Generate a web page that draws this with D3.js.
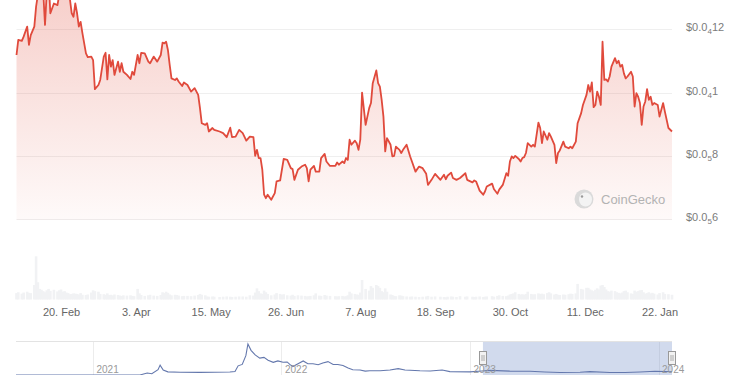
<!DOCTYPE html>
<html>
<head>
<meta charset="utf-8">
<script src="https://cdn.jsdelivr.net/npm/d3@7"></script>
<style>
  html, body { margin: 0; padding: 0; background: #fff; }
  svg { display: block; font-family: "Liberation Sans", Arial, sans-serif; }
</style>
</head>
<body>
<div id="chart"></div>
<script>
// daily price (USD millionths) and volume (USD millions)
var dates = [
  "2023-01-26","2023-01-27","2023-01-29","2023-01-30",
  "2023-02-01","2023-02-02","2023-02-03","2023-02-05","2023-02-06","2023-02-07","2023-02-08","2023-02-09","2023-02-10","2023-02-11","2023-02-12","2023-02-13","2023-02-14","2023-02-16","2023-02-18","2023-02-19","2023-02-20","2023-02-21","2023-02-22","2023-02-23","2023-02-24","2023-02-25","2023-02-26","2023-02-27","2023-02-28",
  "2023-03-01","2023-03-02","2023-03-03","2023-03-04","2023-03-06","2023-03-07","2023-03-09","2023-03-10","2023-03-11","2023-03-13","2023-03-14","2023-03-16","2023-03-17","2023-03-18","2023-03-19","2023-03-20","2023-03-21","2023-03-22","2023-03-24","2023-03-25","2023-03-26","2023-03-27","2023-03-29","2023-03-31",
  "2023-04-01","2023-04-02","2023-04-04","2023-04-05","2023-04-06","2023-04-08","2023-04-10","2023-04-11","2023-04-13","2023-04-15","2023-04-17","2023-04-18","2023-04-19","2023-04-20","2023-04-21","2023-04-22","2023-04-23","2023-04-25","2023-04-26","2023-04-27","2023-04-29","2023-04-30",
  "2023-05-02","2023-05-04","2023-05-06","2023-05-08","2023-05-09","2023-05-10","2023-05-12","2023-05-13","2023-05-14","2023-05-16","2023-05-17","2023-05-20","2023-05-22","2023-05-24","2023-05-26","2023-05-27","2023-05-29","2023-05-31",
  "2023-06-02","2023-06-04","2023-06-06","2023-06-08","2023-06-09","2023-06-10","2023-06-11","2023-06-12","2023-06-13","2023-06-14","2023-06-15","2023-06-16","2023-06-18","2023-06-20","2023-06-21","2023-06-23","2023-06-24","2023-06-25","2023-06-27","2023-06-29","2023-06-30",
  "2023-07-01","2023-07-03","2023-07-05","2023-07-07","2023-07-08","2023-07-09","2023-07-10","2023-07-12","2023-07-13","2023-07-15","2023-07-16","2023-07-18","2023-07-19","2023-07-21","2023-07-24","2023-07-25","2023-07-26","2023-07-28","2023-07-29","2023-07-30","2023-07-31",
  "2023-08-01","2023-08-02","2023-08-04","2023-08-05","2023-08-06","2023-08-07","2023-08-08","2023-08-10","2023-08-12","2023-08-13","2023-08-14","2023-08-16","2023-08-17","2023-08-18","2023-08-19","2023-08-20","2023-08-21","2023-08-22","2023-08-24","2023-08-25","2023-08-26","2023-08-27","2023-08-29","2023-08-30","2023-08-31",
  "2023-09-02","2023-09-04","2023-09-05","2023-09-07","2023-09-09","2023-09-11","2023-09-13","2023-09-14","2023-09-16","2023-09-18","2023-09-21","2023-09-23","2023-09-24","2023-09-25","2023-09-27","2023-09-28","2023-09-30",
  "2023-10-02","2023-10-05","2023-10-06","2023-10-09","2023-10-10","2023-10-11","2023-10-13","2023-10-15","2023-10-16","2023-10-17","2023-10-20","2023-10-21","2023-10-23","2023-10-24","2023-10-26","2023-10-28","2023-10-29","2023-10-30","2023-10-31",
  "2023-11-01","2023-11-02","2023-11-04","2023-11-05","2023-11-06","2023-11-07","2023-11-08","2023-11-09","2023-11-11","2023-11-12","2023-11-13","2023-11-15","2023-11-16","2023-11-17","2023-11-18","2023-11-20","2023-11-21","2023-11-22","2023-11-24","2023-11-25","2023-11-26","2023-11-27","2023-11-29","2023-11-30",
  "2023-12-02","2023-12-03","2023-12-04","2023-12-06","2023-12-07","2023-12-09","2023-12-10","2023-12-12","2023-12-13","2023-12-14","2023-12-15","2023-12-16","2023-12-17","2023-12-18","2023-12-19","2023-12-20","2023-12-21","2023-12-22","2023-12-23","2023-12-24","2023-12-25","2023-12-26","2023-12-28","2023-12-29","2023-12-30","2023-12-31",
  "2024-01-01","2024-01-02","2024-01-03","2024-01-04","2024-01-06","2024-01-07","2024-01-08","2024-01-09","2024-01-10","2024-01-11","2024-01-12","2024-01-13","2024-01-14","2024-01-15","2024-01-16","2024-01-17","2024-01-18","2024-01-19","2024-01-21","2024-01-22","2024-01-24","2024-01-25","2024-01-27","2024-01-29"
]
var prices = [
  11.19,11.67,11.64,11.77,
  12.09,11.51,11.82,12.09,12.72,13.1,13.6,13.9,13.2,12.14,13.2,13.6,12.51,12.82,12.77,13.1,13.5,13.3,13.7,13.4,13.1,12.95,12.51,12.40,12.82,
  12.51,12.09,12.24,11.88,11.24,11.12,11.14,11.03,10.11,10.24,10.40,11.14,11.26,10.42,11.19,10.82,11.03,10.56,10.98,10.66,10.93,10.66,10.56,10.43,
  10.66,10.56,11.19,10.93,11.26,11.24,10.98,10.93,11.14,10.98,11.19,11.58,11.56,11.61,11.35,10.88,10.45,10.40,10.45,10.35,10.21,10.32,
  10.24,10.03,10.14,9.93,9.51,9.03,8.98,9.03,8.77,8.88,8.82,8.77,8.72,8.59,8.89,8.59,8.61,8.82,
  8.72,8.48,8.61,8.59,8.00,8.19,7.93,7.93,7.56,6.77,6.66,6.77,6.61,6.82,7.19,7.22,7.56,7.90,7.87,7.61,7.58,
  7.24,7.56,7.66,7.72,7.61,7.19,7.56,7.68,7.50,7.50,7.93,8.06,7.82,7.68,7.68,7.79,7.72,7.82,7.77,7.93,7.87,
  8.51,8.35,8.48,8.40,8.19,8.51,10.00,8.98,9.51,9.67,10.30,10.70,10.30,10.19,9.77,9.24,8.14,8.56,8.35,7.98,8.00,8.29,8.19,8.09,8.19,
  8.35,7.98,7.82,7.50,7.66,7.61,7.43,7.08,7.24,7.43,7.24,7.40,7.26,7.37,7.47,7.30,7.24,
  7.30,7.45,7.24,7.16,7.22,7.19,6.90,6.77,6.87,7.03,7.12,6.95,6.80,6.93,7.08,7.45,7.37,7.82,7.98,
  7.93,8.00,7.90,7.82,7.93,7.96,8.09,8.40,8.29,8.35,8.29,9.05,8.88,8.40,8.77,8.51,8.72,8.61,8.35,7.77,8.09,8.17,8.45,8.29,
  8.24,8.29,8.24,8.45,9.03,9.35,9.61,9.93,10.24,10.03,10.32,9.54,9.61,10.03,9.87,9.61,11.61,10.40,10.42,10.35,10.51,10.82,11.09,10.93,11.01,10.82,
  10.88,10.61,10.45,10.51,10.66,10.51,9.56,9.98,9.87,9.67,8.98,9.56,9.72,10.11,9.77,9.87,9.61,9.67,9.61,9.24,9.67,9.40,8.88,8.77
]
var volumes = [
  230,260,210,250,
  280,240,230,520,1550,620,380,350,300,260,330,380,310,350,290,330,360,280,300,250,230,190,200,220,210,
  200,180,230,170,160,180,250,330,300,280,200,190,170,220,160,170,150,180,160,140,130,150,140,150,
  130,120,380,220,160,130,150,170,140,130,160,260,230,280,240,180,150,170,160,140,120,130,
  130,120,140,160,200,170,150,110,100,110,100,90,100,110,100,90,100,110,
  110,100,150,140,250,400,300,220,200,320,260,200,150,180,230,200,170,190,150,140,170,
  130,150,140,130,110,120,130,150,220,140,130,160,140,130,120,110,120,130,110,120,150,
  280,220,200,180,170,250,700,380,320,480,420,520,480,420,300,260,400,280,180,160,130,120,150,140,120,
  110,100,110,100,90,100,110,130,100,110,100,90,80,100,110,100,90,
  120,100,110,100,90,100,110,90,100,110,120,100,130,150,130,120,140,180,200,
  220,260,200,180,190,170,200,280,200,180,190,220,200,210,190,230,260,220,180,200,170,160,180,170,
  190,210,200,220,560,380,360,420,420,360,330,300,350,400,360,500,520,450,360,300,280,320,300,260,240,220,
  250,300,320,260,220,200,320,280,300,330,340,260,210,230,260,220,240,210,180,230,260,200,190,170
]
var priceTicks = [0.000006, 0.000008, 0.00001, 0.000012]
var dateTicks = ["2023-02-20","2023-04-03","2023-05-15","2023-06-26","2023-08-07","2023-09-18","2023-10-30","2023-12-11","2024-01-22"]

// navigator: whole history (USD millionths)
var navDates = [
  "2020-08-05","2021-04-02","2021-04-16","2021-04-25","2021-05-07","2021-05-11","2021-05-17","2021-05-26","2021-06-19","2021-07-27",
  "2021-09-23","2021-10-03","2021-10-09","2021-10-17","2021-10-24","2021-10-28","2021-11-03","2021-11-11","2021-11-20","2021-11-28",
  "2021-12-06","2021-12-16","2021-12-25","2022-01-04","2022-01-12","2022-01-17","2022-01-23","2022-02-02","2022-02-12","2022-02-21",
  "2022-03-03","2022-03-13","2022-03-22","2022-04-01","2022-04-11","2022-04-20","2022-04-30","2022-05-10","2022-05-19","2022-06-02",
  "2022-06-12","2022-06-21","2022-07-11","2022-07-30","2022-08-15","2022-08-28","2022-09-26","2022-10-16","2022-11-08","2022-11-23",
  "2023-01-01","2023-01-24","2023-02-09","2023-03-19","2023-04-27","2023-05-26","2023-06-24","2023-08-02","2023-08-21","2023-09-29",
  "2023-10-28","2023-11-26","2023-12-25","2024-01-14","2024-01-27"
]
var navPrices = [
  0,0.1,5.5,3.5,15,28,14,9,8,7.5,
  8.5,10,26,30,55,88,70,57,48,50,
  42,36,40,36,37,30,24,32,40,32,
  32,29,34,38,30,30,27,20,15,14,
  11,12,12,14,18,14,12,11.5,14,9.5,
  9,11.5,13,11,10.5,8.7,7.2,8,9.5,7.3,
  7.1,8.6,10.5,9.8,9.4
]
var yearTicks = [2021, 2022, 2023, 2024]

var width = 750,
    height = 375,
    left = 16.5,
    right = 672

var parse = d3.utcParse("%Y-%m-%d")
var data = dates.map(function (d, i) {
    return { date: parse(d), price: prices[i] * 1e-6, volume: volumes[i] }
})
var navData = navDates.map(function (d, i) {
    return { date: parse(d), price: navPrices[i] * 1e-6 }
})

var svg = d3.select("#chart")
    .append("svg")
    .attr("width", width)
    .attr("height", height)

var x = d3.scaleUtc()
    .domain(d3.extent(data, function (d) { return d.date }))
    .range([left, right])

var y = d3.scaleLinear()
    .domain([0.00000597, 0.00001293])
    .range([220, 0])

var yVol = d3.scaleLinear()
    .domain([0, 1580])
    .range([299.5, 255.5])

// gradient under the line
var grad = svg.append("defs")
    .append("linearGradient")
    .attr("id", "areaFill")
    .attr("gradientUnits", "userSpaceOnUse")
    .attr("x1", 0).attr("y1", 0)
    .attr("x2", 0).attr("y2", 220)
grad.append("stop").attr("offset", "0%").attr("stop-color", "#e15241").attr("stop-opacity", 0.27)
grad.append("stop").attr("offset", "100%").attr("stop-color", "#e15241").attr("stop-opacity", 0.03)

// horizontal grid
svg.selectAll(".grid")
    .data(priceTicks)
    .enter()
    .append("line")
    .attr("x1", left)
    .attr("x2", right)
    .attr("y1", function (d) { return Math.round(y(d)) + 0.5 })
    .attr("y2", function (d) { return Math.round(y(d)) + 0.5 })
    .attr("stroke", "#efefef")

// volume bars (wide enough to close the gaps between days)
svg.selectAll(".vol")
    .data(data)
    .enter()
    .append("rect")
    .attr("x", function (d) { return x(d.date) - 1.3 })
    .attr("width", 2.6)
    .attr("y", function (d) { return yVol(d.volume) })
    .attr("height", function (d) { return yVol(0) - yVol(d.volume) })
    .attr("fill", "#f1f2f4")

var area = d3.area()
    .x(function (d) { return x(d.date) })
    .y0(220)
    .y1(function (d) { return y(d.price) })

var line = d3.line()
    .x(function (d) { return x(d.date) })
    .y(function (d) { return y(d.price) })

svg.append("path")
    .datum(data)
    .attr("d", area)
    .attr("fill", "url(#areaFill)")

svg.append("path")
    .datum(data)
    .attr("d", line)
    .attr("fill", "none")
    .attr("stroke", "#e04a3c")
    .attr("stroke-width", 1.8)
    .attr("stroke-linejoin", "round")

// watermark
var wm = svg.append("g").attr("transform", "translate(584,199)")
wm.append("circle").attr("r", 9.5).attr("fill", "#dadada")
wm.append("ellipse").attr("cx", 1.5).attr("cy", 0.5).attr("rx", 6.5).attr("ry", 7).attr("fill", "#f3f3f3")
wm.append("circle").attr("cx", -2).attr("cy", -2.5).attr("r", 1.2).attr("fill", "#9a9a9a")
wm.append("text")
    .attr("x", 17)
    .attr("y", 4.5)
    .attr("font-size", 13)
    .attr("fill", "#b3b3b3")
    .text("CoinGecko")

// y labels with subscript zero count, e.g. $0.0₄12
function splitPrice(v) {
    var dec = v.toFixed(12).replace(/0+$/, "").split(".")[1]
    var zeros = dec.match(/^0*/)[0].length
    return { zeros: zeros, digits: dec.slice(zeros) }
}

var yLab = svg.selectAll(".ylab")
    .data(priceTicks)
    .enter()
    .append("text")
    .attr("x", 686)
    .attr("y", function (d) { return y(d) + 2 })
    .attr("font-size", 11)
    .attr("fill", "#7b7b7b")
yLab.append("tspan").text("$0.0")
yLab.append("tspan")
    .attr("font-size", 8)
    .attr("dy", 3)
    .text(function (d) { return splitPrice(d).zeros })
yLab.append("tspan")
    .attr("dy", -3)
    .text(function (d) { return splitPrice(d).digits })

// x axis
var xAxis = svg.append("g")
    .attr("transform", "translate(0,305)")
    .call(d3.axisBottom(x)
        .tickValues(dateTicks.map(parse))
        .tickFormat(d3.utcFormat("%-d. %b"))
        .tickSize(0)
        .tickPadding(3))
xAxis.select(".domain").remove()
xAxis.selectAll("text")
    .attr("font-size", 11)
    .attr("font-family", "Liberation Sans, Arial, sans-serif")
    .attr("fill", "#666")

// navigator
var nx = d3.scaleUtc()
    .domain([parse("2020-08-05"), parse("2024-01-27")])
    .range([16, 672])

var ny = d3.scaleLinear()
    .domain([0, 0.000088])
    .range([375, 344])

var nav = svg.append("g")

nav.append("line")
    .attr("x1", 16).attr("x2", 672)
    .attr("y1", 341.5).attr("y2", 341.5)
    .attr("stroke", "#e3e3e3")

nav.selectAll(".yr")
    .data(yearTicks)
    .enter()
    .append("line")
    .attr("x1", function (d) { return Math.round(nx(Date.UTC(d, 0, 1))) + 0.5 })
    .attr("x2", function (d) { return Math.round(nx(Date.UTC(d, 0, 1))) + 0.5 })
    .attr("y1", 342)
    .attr("y2", 375)
    .attr("stroke", "#ececec")

var selStart = Math.max(16, nx(x.domain()[0])),
    selEnd = Math.min(672, nx(x.domain()[1]))

nav.append("rect")
    .attr("x", selStart)
    .attr("y", 342)
    .attr("width", selEnd - selStart)
    .attr("height", 34)
    .attr("fill", "rgba(102,133,194,0.3)")

nav.append("path")
    .datum(navData)
    .attr("d", d3.line()
        .x(function (d) { return nx(d.date) })
        .y(function (d) { return ny(d.price) }))
    .attr("fill", "none")
    .attr("stroke", "#6478ad")
    .attr("stroke-width", 1.1)

nav.selectAll(".yrlab")
    .data(yearTicks)
    .enter()
    .append("text")
    .attr("x", function (d) { return nx(Date.UTC(d, 0, 1)) + 3.5 })
    .attr("y", 373)
    .attr("font-size", 10)
    .attr("fill", "#9a9a9a")
    .text(function (d) { return d })

// handles
var handles = nav.selectAll(".handle")
    .data([selStart, selEnd])
    .enter()
    .append("g")
    .attr("transform", function (d) { return "translate(" + Math.round(d) + ",351)" })
handles.append("rect")
    .attr("x", -3.5).attr("y", 0.5)
    .attr("width", 7).attr("height", 13)
    .attr("fill", "#f2f2f2")
    .attr("stroke", "#999")
    .attr("stroke-width", 1)
handles.append("path")
    .attr("d", "M-1,4 V10 M1,4 V10")
    .attr("stroke", "#999")
    .attr("stroke-width", 0.8)
</script>
</body>
</html>
